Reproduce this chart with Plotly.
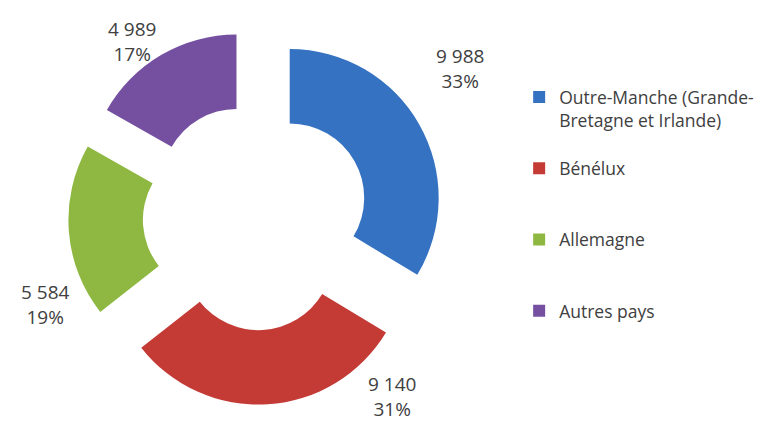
import plotly.graph_objects as go

# ---- data ----
categories = ["Outre-Manche (Grande-<br>Bretagne et Irlande)", "Bénélux", "Allemagne", "Autres pays"]
values = [9988, 9140, 5584, 4989]
percent_labels = [33, 31, 19, 17]

# ---- style ----
colors = ["#3672C2", "#C43B36", "#8EB842", "#7550A1"]
legend_padding = ["<br>\u00a0", "<br>\u00a0<br>\u00a0", "<br>\u00a0<br>\u00a0", ""]
label_pos = [(0.581, 0.857), (0.4936, 0.088), (0.0476, 0.305), (0.1594, 0.9225)]
FONT = "Open Sans"
TXT = "#404040"

fig = go.Figure()
fig.add_trace(go.Pie(
    labels=[c + p for c, p in zip(categories, legend_padding)],
    values=values,
    hole=0.5,
    pull=[0.26] * len(values),
    sort=False,
    direction="clockwise",
    rotation=0,
    textinfo="none",
    marker=dict(colors=colors, line=dict(width=0)),
    domain=dict(x=[0.0775, 0.5600], y=[0.0688, 0.9500]),
))

for v, p, (x, y) in zip(values, percent_labels, label_pos):
    fig.add_annotation(
        x=x, y=y, xref="paper", yref="paper",
        text=f"{v:,}".replace(",", " ") + f"<br>{p}%",
        showarrow=False, xanchor="center", yanchor="middle",
        font=dict(family=FONT, size=19, color=TXT),
    )

fig.update_layout(
    width=778, height=426,
    margin=dict(l=0, r=0, t=0, b=0),
    paper_bgcolor="white", plot_bgcolor="white",
    font=dict(family=FONT, size=17.5, color=TXT),
    legend=dict(
        x=0.657, y=0.833, xanchor="left", yanchor="top",
        valign="top", font=dict(family=FONT, size=17.5, color=TXT),
        itemwidth=30,
    ),
)

fig.write_html("out.html")
